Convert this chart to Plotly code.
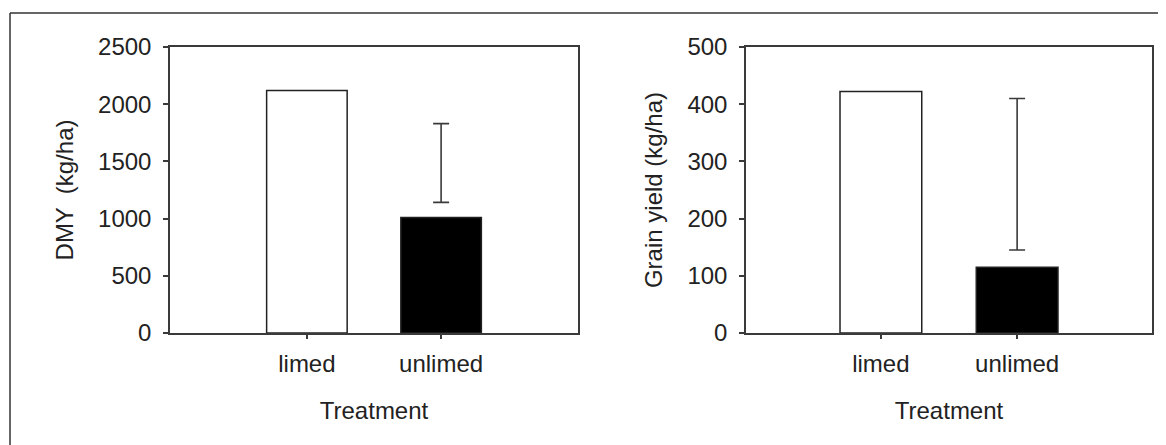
import plotly.graph_objects as go

categories = ["limed", "unlimed"]
dmy = [2120, 1010]
grain = [422, 115]
# error bar extents (lower end, upper end) drawn for the unlimed treatment
err_category = "unlimed"
dmy_err = [1142, 1830]
grain_err = [145, 410]

dmy_ticks = [0, 500, 1000, 1500, 2000, 2500]
grain_ticks = [0, 100, 200, 300, 400, 500]

OFF = 8  # default page body margin
W, H = 1166 - OFF, 445 - OFF
FONT = "Liberation Sans, Arial, sans-serif"
LINE = "#3a3a3a"
TXT = "#222"
FS = 24


def px_x(x):
    return (x - OFF) / W


def px_y(y):
    return 1 - (y - OFF) / H


fig = go.Figure()

bar_colors = ["white", "black"]

fig.add_trace(go.Bar(x=categories, y=dmy, marker=dict(color=bar_colors, line=dict(color="#222", width=1.5)),
                     width=0.6, xaxis="x", yaxis="y", showlegend=False))
fig.add_trace(go.Bar(x=categories, y=grain, marker=dict(color=bar_colors, line=dict(color="#222", width=1.5)),
                     width=0.6, xaxis="x2", yaxis="y2", showlegend=False))


def err_trace(vals, xa, ya):
    lo, hi = vals
    mid = (lo + hi) / 2
    half = (hi - lo) / 2
    return go.Scatter(x=[err_category], y=[mid], mode="markers",
                      marker=dict(size=1, opacity=0),
                      error_y=dict(type="data", symmetric=True, array=[half],
                                   color=LINE, thickness=1.6, width=8),
                      xaxis=xa, yaxis=ya, showlegend=False, hoverinfo="skip")


fig.add_trace(err_trace(dmy_err, "x", "y"))
fig.add_trace(err_trace(grain_err, "x2", "y2"))

ydom = [px_y(333), px_y(47)]
xdom1 = [px_x(170), px_x(578)]
xdom2 = [px_x(746), px_x(1152)]

axis_common = dict(showline=True, linecolor=LINE, linewidth=1.5, mirror=True, automargin=False,
                   showgrid=False, zeroline=False, ticks="outside", tickcolor=LINE,
                   tickwidth=1.5, tickfont=dict(family=FONT, size=FS, color=TXT))
title_font = dict(family=FONT, size=FS, color=TXT)

fig.update_layout(
    width=W, height=H,
    margin=dict(l=0, r=0, t=0, b=0),
    paper_bgcolor="white", plot_bgcolor="white",
    xaxis=dict(domain=xdom1, anchor="y", type="category", range=[-1.02, 2.02], ticklen=4,
               title=dict(text="Treatment", font=title_font, standoff=27),
               ticklabelstandoff=4, **axis_common),
    yaxis=dict(domain=ydom, anchor="x", range=[0, 2500], tickvals=dmy_ticks, ticklen=5,
               title=dict(text="DMY  (kg/ha)", font=title_font, standoff=18),
               ticklabelstandoff=7, **axis_common),
    xaxis2=dict(domain=xdom2, anchor="y2", type="category", range=[-0.99, 1.99], ticklen=4,
                title=dict(text="Treatment", font=title_font, standoff=27),
                ticklabelstandoff=4, **axis_common),
    yaxis2=dict(domain=ydom, anchor="x2", range=[0, 500], tickvals=grain_ticks, ticklen=5,
                title=dict(text="Grain yield (kg/ha)", font=title_font, standoff=18),
                ticklabelstandoff=7, **axis_common),
    shapes=[
        dict(type="line", xref="paper", yref="paper", x0=px_x(10), x1=px_x(10), y0=0, y1=px_y(13),
             line=dict(color="#333", width=1.5)),
        dict(type="line", xref="paper", yref="paper", x0=px_x(10), x1=1, y0=px_y(13), y1=px_y(13),
             line=dict(color="#333", width=1.5)),
    ],
)

fig.write_html("out.html")
